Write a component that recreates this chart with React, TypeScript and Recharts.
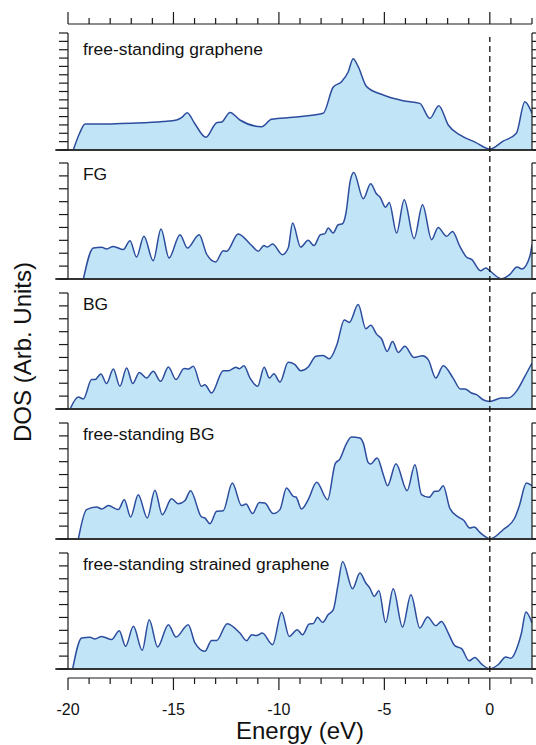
import React from "react";
import { Area, AreaChart, Label, Line, LineChart, ReferenceLine, XAxis, YAxis } from "recharts";

// energy axis (eV)
const energyTicks = [-20, -19, -18, -17, -16, -15, -14, -13, -12, -11, -10, -9, -8, -7, -6, -5, -4, -3, -2, -1, 0, 1, 2];
const energyLabels = [-20, -15, -10, -5, 0];

// free-standing graphene
const grapheneEnergy = [-19.75, -19.45, -19.19, -18.8, -17, -15.5, -14.85, -14.6, -14.35, -14.0, -13.46, -12.95, -12.71, -12.32, -11.85, -10.82, -10.35, -9.32, -7.9, -7.43, -7.03, -6.71, -6.48, -6.24, -5.84, -5.05, -4.11, -3.32, -2.84, -2.42, -1.97, -1.42, -0.7, 0, 0.63, 1.26, 1.66, 2.0];
const grapheneDos = [0, 2.0, 3.11, 3.1, 3.2, 3.4, 3.59, 3.9, 4.47, 3.2, 1.52, 3.27, 3.35, 4.5, 3.59, 2.79, 3.67, 3.91, 4.39, 7.5, 8.18, 9.37, 10.93, 9.97, 7.58, 6.58, 5.9, 5.58, 3.79, 5.3, 2.99, 1.8, 0.95, 0.1, 1.05, 2.0, 5.78, 4.39];

// FG
const fgEnergy = [-19.27, -18.8, -18.4, -18.17, -17.85, -17.38, -17.06, -16.75, -16.4, -15.96, -15.59, -15.21, -14.69, -14.34, -13.78, -13.43, -13.0, -12.64, -12.48, -11.93, -11.37, -11.25, -10.98, -10.71, -10.55, -10.3, -9.83, -9.56, -9.35, -8.97, -8.61, -8.34, -8.03, -7.82, -7.66, -7.43, -7.19, -6.98, -6.82, -6.62, -6.45, -6.0, -5.65, -5.37, -5.21, -4.94, -4.77, -4.42, -4.06, -3.59, -3.19, -2.76, -2.45, -2.05, -1.77, -1.42, -1.11, -0.85, -0.44, -0.19, 0.03, 0.55, 0.94, 1.29, 1.53, 1.9, 2.0];
const fgDos = [0, 2.4, 2.46, 2.33, 2.53, 2.28, 2.97, 1.71, 3.31, 1.42, 3.88, 1.63, 3.44, 2.4, 3.44, 1.94, 1.32, 2.2, 2.15, 3.49, 2.72, 2.53, 2.15, 2.59, 2.48, 2.72, 1.89, 2.4, 4.34, 2.48, 3.0, 2.59, 3.44, 3.52, 3.96, 3.57, 4.21, 4.29, 5.12, 7.6, 8.27, 6.23, 7.39, 6.59, 6.36, 5.56, 5.94, 3.57, 6.15, 3.13, 5.76, 3.05, 4.0, 3.31, 3.69, 2.53, 1.71, 1.5, 0.64, 0.85, 0.59, 0.02, 0.34, 0.93, 0.78, 1.76, 2.66];

// BG
const bgEnergy = [-19.9, -19.51, -19.27, -18.88, -18.72, -18.44, -18.17, -17.85, -17.54, -17.22, -16.93, -16.62, -16.27, -15.96, -15.61, -15.24, -14.88, -14.5, -14.29, -14.06, -13.67, -13.51, -13.19, -12.64, -12.4, -12.04, -11.88, -11.66, -11.37, -11.01, -10.7, -10.45, -10.24, -9.95, -9.56, -9.24, -8.97, -8.61, -8.25, -7.9, -7.61, -7.25, -6.9, -6.66, -6.24, -5.88, -5.64, -5.37, -5.13, -4.87, -4.61, -4.34, -4.03, -3.6, -3.19, -2.92, -2.56, -2.21, -1.74, -1.39, -1.18, -0.87, -0.63, -0.32, 0.0, 0.55, 0.87, 1.26, 1.66, 2.0];
const bgDos = [0, 0.93, 0.78, 2.28, 2.28, 2.72, 1.97, 3.1, 1.76, 3.18, 1.97, 2.84, 2.4, 2.92, 2.15, 3.26, 2.28, 3.15, 3.1, 3.31, 1.76, 1.89, 1.24, 2.97, 2.97, 3.23, 3.13, 3.36, 2.4, 1.76, 3.23, 2.4, 2.74, 2.09, 3.62, 3.44, 2.97, 3.26, 4.09, 4.16, 3.9, 5.0, 6.9, 6.72, 8.1, 6.23, 6.49, 5.81, 5.43, 4.47, 5.24, 4.39, 4.86, 4.0, 4.13, 3.83, 2.4, 3.36, 2.4, 1.55, 1.55, 1.24, 1.11, 0.72, 0.59, 0.85, 0.85, 1.37, 2.53, 3.57];

// free-standing BG
const fsBgEnergy = [-19.51, -19.12, -18.64, -18.4, -18.09, -17.61, -17.33, -17.03, -16.67, -16.24, -15.88, -15.53, -15.09, -14.77, -14.46, -14.19, -13.67, -13.51, -13.27, -12.95, -12.64, -12.21, -11.77, -11.56, -11.25, -10.93, -10.67, -10.27, -9.95, -9.64, -9.32, -9.19, -8.93, -8.61, -8.21, -7.69, -7.33, -7.11, -6.82, -6.56, -6.16, -6.0, -5.77, -5.66, -5.34, -5.05, -4.85, -4.45, -3.92, -3.55, -3.24, -2.88, -2.61, -2.45, -2.21, -1.9, -1.5, -1.24, -0.95, -0.74, -0.47, 0.03, 0.63, 1.18, 1.39, 1.74, 2.0];
const fsBgDos = [0, 2.28, 2.48, 2.33, 2.59, 2.28, 3.05, 1.71, 3.44, 1.63, 3.78, 1.89, 3.13, 2.74, 2.97, 3.75, 1.71, 1.63, 1.19, 2.15, 2.2, 4.34, 2.59, 2.72, 1.97, 2.84, 2.79, 1.97, 2.28, 3.96, 3.31, 3.26, 2.33, 3.05, 4.4, 3.05, 5.85, 6.2, 7.32, 7.91, 7.83, 7.44, 5.94, 5.81, 6.28, 4.99, 4.13, 5.84, 3.75, 5.76, 3.44, 3.23, 3.7, 3.7, 4.13, 2.4, 1.71, 1.45, 0.85, 0.93, 0.51, 0.02, 0.72, 1.63, 2.53, 4.34, 4.13];

// free-standing strained graphene
const strainedEnergy = [-19.78, -19.35, -18.96, -18.72, -18.4, -17.93, -17.57, -17.27, -16.9, -16.48, -16.15, -15.75, -15.24, -14.88, -14.3, -13.98, -13.51, -13.19, -12.95, -12.45, -11.85, -11.53, -11.29, -11.06, -10.79, -10.3, -9.87, -9.51, -9.13, -8.88, -8.56, -8.37, -8.17, -7.93, -7.66, -7.42, -7.2, -6.98, -6.51, -6.16, -5.88, -5.69, -5.48, -5.26, -4.94, -4.58, -4.14, -3.74, -3.32, -2.95, -2.56, -2.29, -1.97, -1.66, -1.34, -0.98, -0.71, -0.39, 0, 0.39, 0.76, 1.0, 1.34, 1.5, 1.71, 2.0];
const strainedDos = [0, 2.4, 2.46, 2.33, 2.53, 2.28, 2.97, 1.76, 3.31, 1.45, 3.83, 1.71, 3.44, 2.48, 3.44, 2.02, 1.37, 2.22, 2.22, 3.52, 2.79, 2.2, 2.66, 2.59, 2.79, 1.89, 4.4, 2.53, 3.05, 2.66, 3.49, 3.52, 4.01, 3.62, 4.22, 4.6, 6.5, 8.35, 6.23, 7.44, 6.67, 6.28, 5.63, 6.07, 3.62, 6.23, 3.26, 5.76, 3.18, 4.03, 3.36, 3.69, 2.79, 1.81, 1.58, 0.64, 0.9, 0.38, 0.02, 0.33, 0.93, 0.83, 1.88, 2.79, 4.42, 3.57];

const FONT = '"Liberation Sans", Arial, Helvetica, sans-serif';
const LINE = "#2c4d9e";
const FILL = "#c1e4f7";
const INK = "#1a1a1a";

// panel layout (pixels)
const panelTops = [33, 163, 293, 423, 553];
const panelHeights = [117, 116, 116, 116, 116];
const panelMax = [14, 9, 9, 9, 9];
const labelOffsets = [22, 17, 17, 17, 17];

type PanelProps = {
  label: string;
  energy: number[];
  dos: number[];
  top: number;
  height: number;
  max: number;
  labelDy: number;
};

// y ticks drawn by hand so the tick marks show without labels
function LeftTick(props: any) {
  const { x, y } = props;
  return <line x1={x} x2={x - 9} y1={y} y2={y} stroke={INK} strokeWidth={1.2} />;
}

function RightTick(props: any) {
  const { x, y } = props;
  return <line x1={x} x2={x + 6} y1={y} y2={y} stroke={INK} strokeWidth={1.2} />;
}

function DosPanel({ label, energy, dos, top, height, max, labelDy }: PanelProps) {
  const pad = 6;
  const data = energy.map((e, i) => ({ e, dos: dos[i] }));
  const ticks = Array.from({ length: max + 1 }, (_, i) => i);
  return (
    <div style={{ position: "absolute", left: 0, top: top - pad }}>
      <AreaChart
        width={536}
        height={height + 2 * pad}
        data={data}
        margin={{ top: pad, right: 0, bottom: pad, left: 0 }}
      >
        <XAxis dataKey="e" type="number" domain={[-20, 2]} hide allowDataOverflow />
        <YAxis
          yAxisId="l"
          orientation="left"
          width={68}
          type="number"
          domain={[0, max]}
          ticks={ticks}
          interval={0}
          tickSize={0}
          tickMargin={0}
          tickLine={false}
          tick={(p: any) => <LeftTick {...p} />}
          axisLine={{ stroke: INK, strokeWidth: 1.2 }}
          allowDataOverflow
        >
          <Label
            content={() => (
              <text x={83} y={pad + labelDy} fontSize={17.4} fontFamily={FONT} fill="#111">
                {label}
              </text>
            )}
          />
        </YAxis>
        <YAxis
          yAxisId="r"
          orientation="right"
          width={4}
          type="number"
          domain={[0, max]}
          ticks={ticks}
          interval={0}
          tickSize={0}
          tickMargin={0}
          tickLine={false}
          tick={(p: any) => <RightTick {...p} />}
          axisLine={{ stroke: INK, strokeWidth: 1.2 }}
          allowDataOverflow
        />
        <Area
          yAxisId="l"
          type="monotone"
          dataKey="dos"
          stroke={LINE}
          strokeWidth={1.5}
          fill={FILL}
          fillOpacity={1}
          dot={false}
          activeDot={false}
          isAnimationActive={false}
        />
        <ReferenceLine
          yAxisId="l"
          segment={[{ x: -20.6, y: 0 }, { x: 2.2, y: 0 }]}
          stroke="#333"
          strokeWidth={2}
          ifOverflow="visible"
        />
      </AreaChart>
    </div>
  );
}

function TopTick(props: any) {
  const { x, y, payload } = props;
  const len = payload.value % 5 === 0 ? 12 : 6;
  return <line x1={x} x2={x} y1={y} y2={y - len} stroke={INK} strokeWidth={1.2} />;
}

function BottomTick(props: any) {
  const { x, y, payload } = props;
  const major = energyLabels.includes(payload.value);
  const len = payload.value % 5 === 0 ? 12 : 6;
  return (
    <g>
      <line x1={x} x2={x} y1={y} y2={y + len} stroke={INK} strokeWidth={1.2} />
      {major ? (
        <text x={x} y={y + 37} textAnchor="middle" fontSize={16} fontFamily={FONT} fill="#111">
          {payload.value}
        </text>
      ) : null}
    </g>
  );
}

export default function App() {
  const panels = [
    { label: "free-standing graphene", energy: grapheneEnergy, dos: grapheneDos },
    { label: "FG", energy: fgEnergy, dos: fgDos },
    { label: "BG", energy: bgEnergy, dos: bgDos },
    { label: "free-standing BG", energy: fsBgEnergy, dos: fsBgDos },
    { label: "free-standing strained graphene", energy: strainedEnergy, dos: strainedDos },
  ];

  return (
    <div
      style={{
        position: "absolute",
        left: 0,
        top: 0,
        width: 536,
        height: 745,
        background: "#fff",
        fontFamily: FONT,
      }}
    >
      {panels.map((p, i) => (
        <DosPanel
          key={p.label}
          label={p.label}
          energy={p.energy}
          dos={p.dos}
          top={panelTops[i]}
          height={panelHeights[i]}
          max={panelMax[i]}
          labelDy={labelOffsets[i]}
        />
      ))}

      {/* Fermi level marker across all panels; the series is invisible, it only anchors the axes */}
      <div style={{ position: "absolute", left: 0, top: 37, pointerEvents: "none" }}>
        <LineChart
          width={536}
          height={635}
          data={energyTicks.map((e) => ({ e, v: 0 }))}
          margin={{ top: 0, right: 4, bottom: 0, left: 68 }}
        >
          <XAxis dataKey="e" type="number" domain={[-20, 2]} hide />
          <YAxis type="number" domain={[0, 1]} hide />
          <Line
            dataKey="v"
            stroke="transparent"
            dot={false}
            activeDot={false}
            isAnimationActive={false}
          />
          <ReferenceLine x={0} stroke="#111" strokeWidth={1.3} strokeDasharray="6 4" ifOverflow="visible" />
        </LineChart>
      </div>

      {/* shared energy axes (top and bottom) and axis titles */}
      <div style={{ position: "absolute", left: 0, top: 0, pointerEvents: "none" }}>
        <LineChart
          width={536}
          height={745}
          data={energyTicks.map((e) => ({ e }))}
          margin={{ top: 0, right: 4, bottom: 0, left: 68 }}
        >
          <XAxis
            xAxisId="top"
            orientation="top"
            dataKey="e"
            type="number"
            domain={[-20, 2]}
            ticks={energyTicks}
            interval={0}
            height={24}
            tickSize={0}
            tickMargin={0}
            tickLine={false}
            tick={(p: any) => <TopTick {...p} />}
            axisLine={{ stroke: INK, strokeWidth: 1.2 }}
          >
            <Label
              content={() => (
                <text
                  x={31}
                  y={352}
                  transform="rotate(-90 31 352)"
                  textAnchor="middle"
                  fontSize={24}
                  fontFamily={FONT}
                  fill="#111"
                >
                  DOS (Arb. Units)
                </text>
              )}
            />
          </XAxis>
          <XAxis
            xAxisId="bottom"
            orientation="bottom"
            dataKey="e"
            type="number"
            domain={[-20, 2]}
            ticks={energyTicks}
            interval={0}
            height={67}
            tickSize={0}
            tickMargin={0}
            tickLine={false}
            tick={(p: any) => <BottomTick {...p} />}
            axisLine={{ stroke: INK, strokeWidth: 1.2 }}
          >
            <Label
              content={() => (
                <text x={300} y={739} textAnchor="middle" fontSize={24} fontFamily={FONT} fill="#111">
                  Energy (eV)
                </text>
              )}
            />
          </XAxis>
        </LineChart>
      </div>
    </div>
  );
}
